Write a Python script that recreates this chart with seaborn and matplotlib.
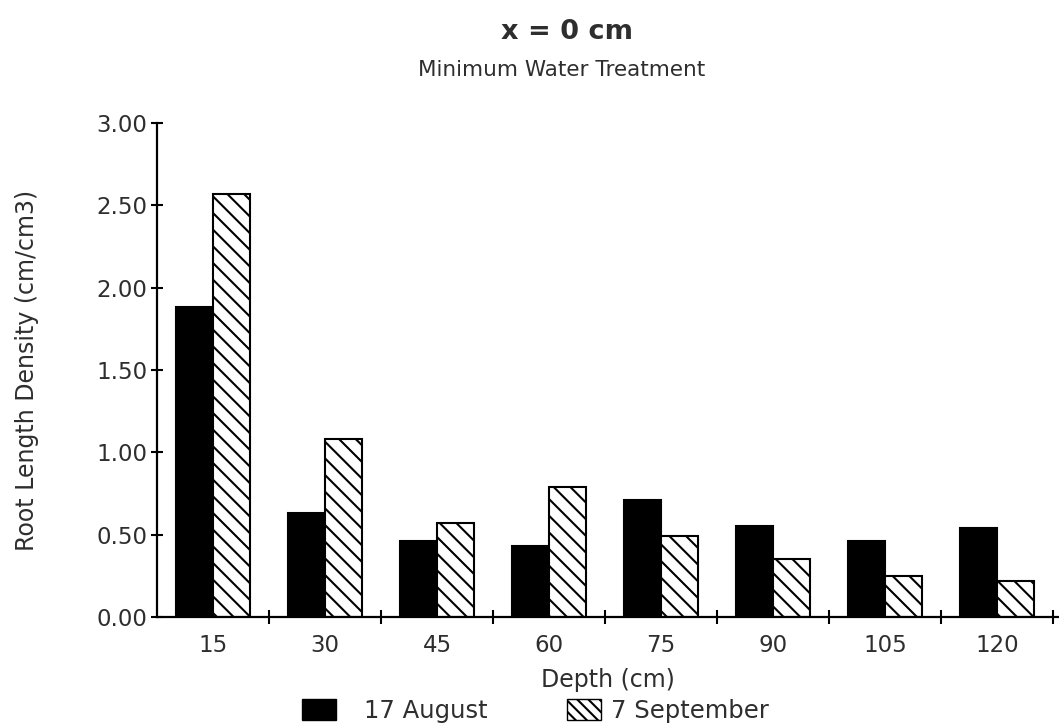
import matplotlib
matplotlib.use("Agg")
import matplotlib.pyplot as plt
from matplotlib.patches import Patch
import seaborn as sns
import pandas as pd

depths = ["15", "30", "45", "60", "75", "90", "105", "120"]
aug17 = [1.88, 0.63, 0.46, 0.43, 0.71, 0.55, 0.46, 0.54]
sep7 = [2.57, 1.08, 0.57, 0.79, 0.49, 0.35, 0.25, 0.22]
series_names = ["17 August", "7 September"]
yticks = [0.0, 0.5, 1.0, 1.5, 2.0, 2.5, 3.0]

sns.set_theme(style="white")
plt.rcParams["font.family"] = ["DejaVu Sans"]
plt.rcParams["hatch.linewidth"] = 1.5
TXT = "#2e2e2e"

df = pd.DataFrame({
    "Depth": depths * 2,
    "RLD": aug17 + sep7,
    "Date": [series_names[0]] * len(depths) + [series_names[1]] * len(depths),
})

fig = plt.figure(figsize=(10.59, 7.28), dpi=100)
ax = fig.add_axes([157 / 1059, 1 - 617 / 728, 1 - 157 / 1059, (617 - 123) / 728])

sns.barplot(data=df, x="Depth", y="RLD", hue="Date", order=depths,
            hue_order=series_names, palette=["black", "white"],
            width=0.66, dodge=True, saturation=1, edgecolor="black",
            linewidth=1.5, errorbar=None, legend=False, ax=ax)

hatch = "\\\\"
for p in ax.containers[1].patches:
    p.set_hatch(hatch)
    p.set_facecolor("white")
    p.set_edgecolor("black")

ax.set_xlim(-0.5, 7.55)
ax.set_ylim(0, 3.0)
ax.set_yticks(yticks)
ax.set_yticklabels([f"{v:.2f}" for v in yticks])
ax.set_xticks(range(len(depths)))
ax.set_xticklabels(depths)
ax.set_xticks([i + 0.5 for i in range(len(depths))], minor=True)
ax.tick_params(axis="x", which="major", length=0, pad=12, labelsize=16.5, labelcolor=TXT)
ax.tick_params(axis="x", which="minor", direction="inout", length=10, width=1.5,
               color="black", bottom=True)
ax.tick_params(axis="y", which="major", direction="inout", length=8, width=1.5,
               color="black", left=True, pad=3, labelsize=16.5, labelcolor=TXT)

for s in ["top", "right"]:
    ax.spines[s].set_visible(False)
for s in ["left", "bottom"]:
    ax.spines[s].set_color("black")
    ax.spines[s].set_linewidth(1.6)
ax.set_facecolor("white")
fig.patch.set_facecolor("white")

ax.set_xlabel("Depth (cm)", fontsize=17, color=TXT, labelpad=8)
ax.set_ylabel("Root Length Density (cm/cm3)", fontsize=17, color=TXT, labelpad=41)

fig.text(567 / 1059, 1 - 32 / 728, "x = 0 cm", ha="center", va="center",
         fontsize=19.5, fontweight="bold", color=TXT)
fig.text(562 / 1059, 1 - 70 / 728, "Minimum Water Treatment", ha="center",
         va="center", fontsize=15.5, color=TXT)

handles = [Patch(facecolor="black", edgecolor="black"),
           Patch(facecolor="white", edgecolor="black", hatch="\\\\\\")]
legend_x = [302, 567]
text_pads = [1.15, 0.4]
for h, name, lx, tp in zip(handles, series_names, legend_x, text_pads):
    fig.legend([h], [name], loc="center left",
               bbox_to_anchor=(lx / 1059, 1 - 711 / 728),
               frameon=False, fontsize=17.5, labelcolor=TXT, handlelength=1.4,
               handleheight=0.93, handletextpad=tp, borderpad=0,
               borderaxespad=0)

fig.savefig("out.png", dpi=100, facecolor="white")
